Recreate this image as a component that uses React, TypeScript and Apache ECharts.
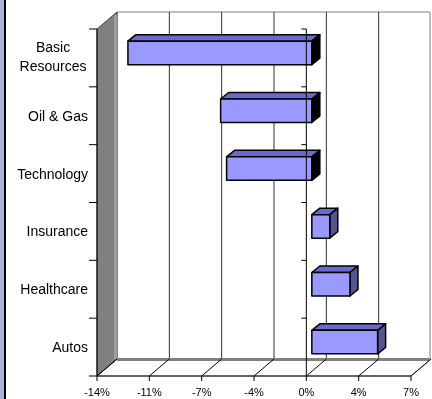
import React, { useEffect, useRef } from "react";
import * as echarts from "echarts";

const categories = ["Basic Resources", "Oil & Gas", "Technology", "Insurance", "Healthcare", "Autos"];
const values = [-12.3, -6.1, -5.7, 1.2, 2.55, 4.4];
const xTicks = [-14, -10.5, -7, -3.5, 0, 3.5, 7];
const xTickLabels = ["-14%", "-11%", "-7%", "-4%", "0%", "4%", "7%"];

const DX = 20;
const DY = -17;
const FONT = "Liberation Sans, Arial, sans-serif";

export default function App() {
  const ref = useRef<HTMLDivElement>(null);
  useEffect(() => {
    if (!ref.current) return;
    const chart = echarts.init(ref.current, undefined, { renderer: "svg" });
    const nCat = categories.length;

    const bgRender = (params: any, api: any) => {
      const cs = params.coordSys;
      const x0 = cs.x, y0 = cs.y, w = cs.width, h = cs.height;
      const yb = y0 + h;
      const children: any[] = [];
      children.push({
        type: "rect",
        shape: { x: x0 + DX, y: y0 + DY, width: Math.min(w, 430 - x0 - DX), height: h },
        style: { fill: "#ffffff", stroke: "#808080", lineWidth: 1 },
      });
      xTicks.forEach((t, i) => {
        if (i === 0 || i === xTicks.length - 1) return;
        const tx = api.coord([t, 0])[0] + DX;
        children.push({
          type: "line",
          shape: { x1: tx, y1: y0 + DY, x2: tx, y2: yb + DY },
          style: { stroke: "#303030", lineWidth: 1 },
        });
      });
      children.push({
        type: "polygon",
        shape: { points: [[x0, yb], [x0 + DX, yb + DY], [x0 + w + DX, yb + DY], [x0 + w, yb]] },
        style: { fill: "#ffffff", stroke: "#909090", lineWidth: 1 },
      });
      children.push({
        type: "rect",
        shape: { x: x0 + DX, y: yb + DY - 1, width: w - 2, height: 3 },
        style: { fill: "#808080" },
      });
      children.push({
        type: "polygon",
        shape: { points: [[x0, y0], [x0 + DX, y0 + DY], [x0 + DX, yb + DY], [x0, yb]] },
        style: { fill: "#808080", stroke: "#404040", lineWidth: 1 },
      });
      children.push({
        type: "rect",
        shape: { x: x0 + DX - 3, y: y0 + DY + 3, width: 3, height: h - 3 },
        style: { fill: "#a0a0a0" },
      });
      xTicks.forEach((t) => {
        const tx = api.coord([t, 0])[0];
        children.push({
          type: "line",
          shape: { x1: tx, y1: yb, x2: tx + DX, y2: yb + DY },
          style: { stroke: "#000000", lineWidth: 1 },
        });
        children.push({
          type: "line",
          shape: { x1: tx, y1: yb, x2: tx, y2: yb + 5 },
          style: { stroke: "#000000", lineWidth: 1 },
        });
      });
      children.push({
        type: "line",
        shape: { x1: x0, y1: yb, x2: x0 + w, y2: yb },
        style: { stroke: "#000000", lineWidth: 1 },
      });
      children.push({
        type: "line",
        shape: { x1: x0, y1: y0, x2: x0, y2: yb },
        style: { stroke: "#000000", lineWidth: 1 },
      });
      for (let k = 0; k <= nCat; k++) {
        const ty = y0 + (k * h) / nCat;
        children.push({
          type: "line",
          shape: { x1: x0 - 8, y1: ty, x2: x0, y2: ty },
          style: { stroke: "#000000", lineWidth: 1 },
        });
      }
      return { type: "group", children };
    };

    const barRender = (params: any, api: any) => {
      const v = api.value(0);
      const idx = api.value(1);
      const p0 = api.coord([0, idx]);
      const p1 = api.coord([v, idx]);
      const ox = 5.5, oy = -5;
      const ddx = 8, ddy = -6.5;
      const bh = 23.5;
      const xl = Math.min(p0[0], p1[0]) + ox;
      const xr = Math.max(p0[0], p1[0]) + ox;
      const yt = p0[1] + oy - bh / 2;
      const ybm = yt + bh;
      const stroke = { stroke: "#000000", lineWidth: 1.5, lineJoin: "round" };
      return {
        type: "group",
        children: [
          {
            type: "polygon",
            shape: { points: [[xl, yt], [xr, yt], [xr + ddx, yt + ddy], [xl + ddx, yt + ddy]] },
            style: { fill: "#6a6acc", ...stroke },
          },
          {
            type: "polygon",
            shape: { points: [[xr, yt], [xr + ddx, yt + ddy], [xr + ddx, ybm + ddy], [xr, ybm]] },
            style: { fill: v < 0 ? "#000000" : "#55558f", ...stroke },
          },
          {
            type: "rect",
            shape: { x: xl, y: yt, width: xr - xl, height: bh },
            style: { fill: "#9999ff", ...stroke },
          },
        ],
      };
    };

    const overlayRender = (params: any, api: any) => {
      const cs = params.coordSys;
      const y0 = cs.y, h = cs.height;
      const zx = api.coord([0, 0])[0];
      const children: any[] = [
        {
          type: "line",
          shape: { x1: zx, y1: y0, x2: zx, y2: y0 + h },
          style: { stroke: "#000000", lineWidth: 1 },
        },
      ];
      for (let k = 0; k < nCat; k++) {
        const ty = y0 + (k * h) / nCat;
        children.push({
          type: "line",
          shape: { x1: zx - 5, y1: ty, x2: zx, y2: ty },
          style: { stroke: "#000000", lineWidth: 1 },
        });
      }
      return { type: "group", children };
    };

    chart.setOption({
      animation: false,
      grid: { left: 97, right: 21, top: 29, bottom: 23, containLabel: false },
      xAxis: {
        type: "value",
        min: -14,
        max: 7,
        interval: 3.5,
        axisLine: { show: false },
        axisTick: { show: false },
        splitLine: { show: false },
        axisLabel: {
          margin: 10,
          fontSize: 11,
          color: "#000000",
          fontFamily: FONT,
          formatter: (val: number) => {
            let best = 0;
            xTicks.forEach((t, i) => {
              if (Math.abs(t - val) < Math.abs(xTicks[best] - val)) best = i;
            });
            return xTickLabels[best];
          },
        },
      },
      yAxis: {
        type: "category",
        inverse: true,
        data: categories,
        axisLine: { show: false },
        axisTick: { show: false },
        splitLine: { show: false },
        axisLabel: {
          margin: 9,
          fontSize: 14,
          color: "#000000",
          fontFamily: FONT,
          formatter: (val: string) => {
            if (val === "Basic Resources") return "{c|Basic}\n{r|Resources}";
            return val;
          },
          rich: {
            c: { width: 70, align: "center", fontSize: 14, lineHeight: 21, fontFamily: FONT, color: "#000000" },
            r: { width: 70, align: "center", fontSize: 14, lineHeight: 21, fontFamily: FONT, color: "#000000", padding: [0, 0, 5, 0] },
          },
        },
      },
      graphic: [
        { type: "rect", left: 0, top: 0, shape: { x: 0, y: 0, width: 4, height: 399 }, style: { fill: "#a9b4d6" } },
        { type: "rect", left: 4, top: 0, shape: { x: 0, y: 0, width: 2, height: 399 }, style: { fill: "#000000" } },
      ],
      series: [
        {
          type: "custom",
          z: 1,
          renderItem: bgRender,
          data: [[0, 0]],
          encode: { x: 0, y: 1 },
          silent: true,
        },
        {
          type: "custom",
          z: 2,
          renderItem: barRender,
          data: values.map((v, i) => [v, i]),
          encode: { x: 0, y: 1 },
        },
        {
          type: "custom",
          z: 3,
          renderItem: overlayRender,
          data: [[0, 0]],
          encode: { x: 0, y: 1 },
          silent: true,
        },
      ],
    });
    return () => chart.dispose();
  }, []);
  return <div ref={ref} style={{ position: "fixed", left: 0, top: 0, width: 432, height: 399 }} />;
}
